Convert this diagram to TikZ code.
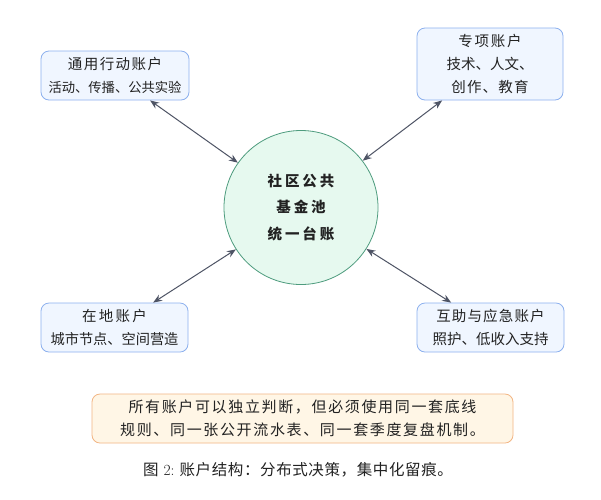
\documentclass[tikz,border=0pt]{standalone}
\usepackage{fontspec}
\setmainfont{Noto Sans CJK SC}
\newfontfamily\latinfont{Latin Modern Roman}
\usetikzlibrary{arrows.meta}
\definecolor{boxfill}{HTML}{F0F6FF}
\definecolor{boxdraw}{HTML}{8CB0EE}
\definecolor{circfill}{HTML}{E6F9EF}
\definecolor{circdraw}{HTML}{4E9C7E}
\definecolor{notefill}{HTML}{FFF6E6}
\definecolor{notedraw}{HTML}{F2B583}
\definecolor{arrowcol}{HTML}{4E5465}
\definecolor{textcol}{HTML}{222222}
\newcommand{\spaced}[2]{{\addfontfeature{LetterSpace=#1}#2}}
\tikzset{
  account/.style={draw=boxdraw, fill=boxfill, rounded corners=8pt, line width=0.8pt,
    align=center, inner sep=0pt, text=textcol, font=\fontsize{14.5}{23}\selectfont},
  pool/.style={circle, draw=circdraw, fill=circfill, line width=0.8pt, minimum size=154pt,
    align=center, inner sep=0pt, text=textcol, font=\bfseries\fontsize{14.5}{26.5}\selectfont},
  notebox/.style={draw=notedraw, fill=notefill, rounded corners=8pt, line width=0.8pt,
    align=center, inner sep=0pt, text=textcol, font=\fontsize{15}{22.5}\selectfont},
  link/.style={draw=arrowcol, line width=1pt, {Stealth[length=9pt,width=7pt]}-{Stealth[length=9pt,width=7pt]}},
  captionstyle/.style={text=textcol, font=\fontsize{15.5}{18}\selectfont, inner sep=0pt}
}
\begin{document}
\begin{tikzpicture}[x=1pt,y=-1pt]
\useasboundingbox (0,0) rectangle (601,499);
\fill[white] (0,0) rectangle (601,499);

\node[pool] (pool) at (301,207.5) {\spaced{20}{社区公共}\\\spaced{20}{基金池}\\\spaced{20}{统一台账}};

\node[account, minimum width=148pt, minimum height=49pt] (general) at (115,75.5)
  {\spaced{10}{通用行动账户}\\{\fontsize{13.3}{23}\selectfont 活动、传播、公共实验}};
\node[account, minimum width=146pt, minimum height=72pt] (special) at (490,64)
  {\spaced{12}{专项账户}\\技术、人文、\\\spaced{8}{创作、教育}};
\node[account, minimum width=147pt, minimum height=49pt] (local) at (114.5,327.5)
  {\spaced{16}{在地账户}\\{\fontsize{14.2}{23}\selectfont 城市节点、空间营造}};
\node[account, minimum width=147pt, minimum height=49pt] (mutual) at (490.5,327.5)
  {\spaced{8}{互助与应急账户}\\照护、低收入支持};

\node[notebox, minimum width=421pt, minimum height=49pt] (note) at (302.5,418.5)
  {\spaced{11}{所有账户可以独立判断，但必须使用同一套底线}\\\spaced{11}{规则、同一张公开流水表、同一套季度复盘机制。}};

\node[captionstyle] (caption) at (298,470) {图\hspace{5pt}{\latinfont 2:}\hspace{5pt}\spaced{4}{账户结构：分布式决策，集中化留痕。}};

\draw[link] (pool) -- (general);
\draw[link] (pool) -- (special);
\draw[link] (pool) -- (local);
\draw[link] (pool) -- (mutual);
\end{tikzpicture}
\end{document}
